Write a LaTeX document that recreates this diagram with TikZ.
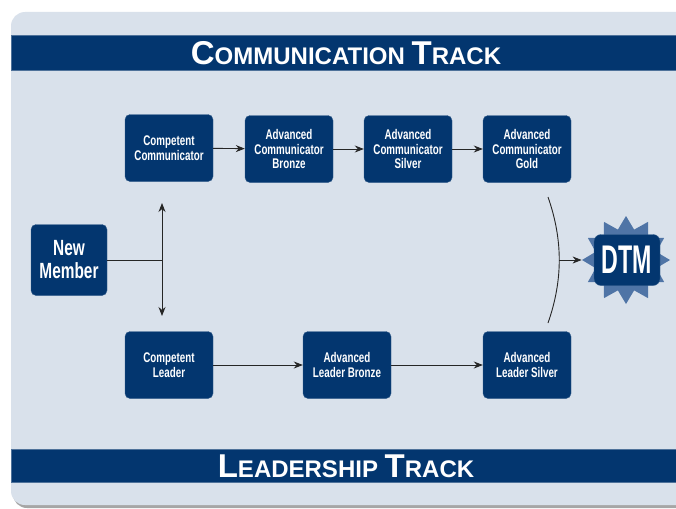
\documentclass[tikz,border=0pt]{standalone}
\usepackage{fontspec}
\setmainfont{Liberation Sans}[FakeStretch=0.7]
\newfontfamily\titlefont{Liberation Sans}
\newfontfamily\dtmfont{Liberation Sans}[FakeStretch=0.58]
\usepackage{tikz}
\usetikzlibrary{arrows.meta,shapes.geometric}

\definecolor{tmblue}{HTML}{03366F}
\definecolor{tmpanel}{HTML}{D9E1EB}
\definecolor{tmstar}{HTML}{4F74A6}

\begin{document}
\begin{tikzpicture}[x=1pt,y=-1pt]
            \tikzstyle{every node}+=[inner sep=0pt]
            \tikzstyle{stepbox}=[draw=tmblue!80!white, fill=tmblue, text=white, rounded corners=5pt,
                minimum width=88pt, minimum height=67pt, align=center,
                font=\bfseries\fontsize{14}{14.5}\selectfont]
            \tikzstyle{trackbar}=[fill=tmblue, draw=tmblue!70!white]
            \tikzstyle{link}=[draw=black!85, line width=0.9pt, -{Stealth[length=9pt,width=7pt]}]
            \useasboundingbox (0,0) rectangle (676,508);
            % panel and bars
            \fill [black!35, rounded corners=14pt] (13,15) rectangle (700,508);
            \fill [tmpanel, rounded corners=14pt] (11,12) rectangle (700,505);
            \draw [trackbar] (11,35) rectangle (676,70);
            \draw [trackbar] (11,449) rectangle (676,482);
            \node [text=white, font=\titlefont\bfseries\fontsize{24}{25}\selectfont] (ctitle) at (346,53)
                {{\fontsize{33}{34}\selectfont C}OMMUNICATION {\fontsize{33}{34}\selectfont T}RACK};
            \node [text=white, font=\titlefont\bfseries\fontsize{24}{25}\selectfont] (ltitle) at (346,466)
                {{\fontsize{33}{34}\selectfont L}EADERSHIP {\fontsize{33}{34}\selectfont T}RACK};
            % communication track
            \node [stepbox] (cc) at (169,148) {Competent\\Communicator};
            \node [stepbox] (acb) at (289,149) {Advanced\\Communicator\\Bronze};
            \node [stepbox] (acs) at (408,149) {Advanced\\Communicator\\Silver};
            \node [stepbox] (acg) at (527,149) {Advanced\\Communicator\\Gold};
            % leadership track
            \node [stepbox] (cl) at (169,365) {Competent\\Leader};
            \node [stepbox] (alb) at (347,365) {Advanced\\Leader Bronze};
            \node [stepbox] (als) at (527,365) {Advanced\\Leader Silver};
            % new member
            \node [stepbox, minimum width=76pt, minimum height=71pt,
                font=\bfseries\fontsize{22}{23}\selectfont] (nm) at (69,260) {New\\Member};
            % dtm
            \node [star, star points=12, star point ratio=1.4, minimum size=88pt, fill=tmstar] (dstar) at (626,260) {};
            \node [stepbox, minimum width=66pt, minimum height=51pt, rounded corners=7pt,
                font=\dtmfont\bfseries\fontsize{40}{40}\selectfont] (dtm) at (627,260) {DTM};
            % connectors
            \coordinate (split) at (162,260);
            \coordinate (up) at (162,203);
            \coordinate (down) at (162,316);
            \coordinate (jtop) at (548,197);
            \coordinate (jbot) at (548,323);
            \coordinate (join) at (559,260);
            \draw [draw=black!85, line width=0.9pt] (nm.east) -- (split);
            \draw [link] (split) -- (up);
            \draw [link] (split) -- (down);
            \draw [link] (cc) -- (acb);
            \draw [link] (acb) -- (acs);
            \draw [link] (acs) -- (acg);
            \draw [link] (cl) -- (alb);
            \draw [link] (alb) -- (als);
            \draw [draw=black!85, line width=0.9pt] (jtop) .. controls (563,240) and (563,280) .. (jbot);
            \draw [link] (join) -- (dstar.west);
\end{tikzpicture}
\end{document}
